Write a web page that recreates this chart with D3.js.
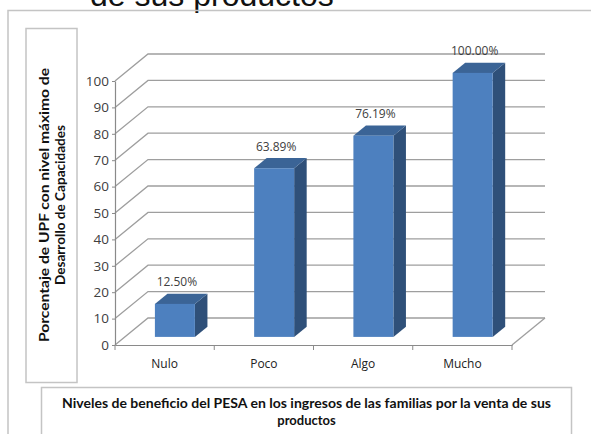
<!DOCTYPE html>
<html>
<head>
<meta charset="utf-8">
<script src="https://cdn.jsdelivr.net/npm/d3@7"></script>
<style>
  html, body { margin: 0; padding: 0; background: #fff; }
  svg { display: block; }
</style>
</head>
<body>
<svg id="chart" width="591" height="434"></svg>
<script>
// Chart data
const categories = ["Nulo", "Poco", "Algo", "Mucho"];
const values = [12.5, 63.89, 76.19, 100];
const valueLabels = ["12.50%", "63.89%", "76.19%", "100.00%"];
const yTickValues = [0, 10, 20, 30, 40, 50, 60, 70, 80, 90, 100];
const yTitleLines = ["Porcentaje  de UPF con nivel máximo de", "Desarrollo de Capacidades"];
const xTitleLines = ["Niveles  de beneficio del  PESA en los ingresos de las familias por la venta de sus", "productos"];
const headingTail = "de sus productos";

const svg = d3.select("#chart");
const FONT = "'Open Sans', Lato, sans-serif";
const BOLD_FONT = "Lato, 'Open Sans', sans-serif";

// Front plane of the 3D plot
const x = d3.scaleBand().domain(categories).range([115, 512]);
const y = d3.scaleLinear().domain([0, 100]).range([345, 81]);

// Depth direction of the 3D box (full depth)
const DX = 33, DY = -27;
const proj = (px, py, t) => [px + DX * t, py + DY * t];
const barFront = 0.3, barBack = 0.68;
const barInset = 30, barWidth = 40;

// Cut-off heading text at top
svg.append("text")
  .attr("x", 90).attr("y", 6)
  .attr("font-family", "'Liberation Sans', Arial, sans-serif")
  .attr("font-size", 32)
  .attr("fill", "#111")
  .text(headingTail);

// Outer frame
const frame = svg.append("g").attr("fill", "none").attr("stroke", "#c4c4c4").attr("stroke-width", 1.5);
frame.append("path").attr("d", "M8,440 V10.5 H600");
// Axis-title boxes
frame.append("rect").attr("x", 26).attr("y", 28.5).attr("width", 51).attr("height", 354);
frame.append("rect").attr("x", 41.5).attr("y", 387.5).attr("width", 530).attr("height", 60);

// Gridlines on the back wall, with the left-wall diagonals
const grid = svg.append("g").attr("stroke", "#9e9e9e").attr("stroke-width", 1.3).attr("fill", "none");
const x0 = x.range()[0], x1 = x.range()[1];
yTickValues.forEach(v => {
  const [bx, by] = proj(x0, y(v), 1);
  const [ex] = proj(x1, y(v), 1);
  grid.append("path").attr("d", `M${x0},${y(v)} L${bx},${by} H${ex}`);
});
// Floor right edge
{
  const [ex, ey] = proj(x1, y(0), 1);
  grid.append("path").attr("d", `M${x1},${y(0)} L${ex},${ey}`);
}

// Value axis
const yAxis = d3.axisLeft(y).tickValues(yTickValues).tickSize(3).tickPadding(3).tickSizeOuter(0);
const yg = svg.append("g").attr("transform", `translate(${x0},0)`).call(yAxis);
yg.select(".domain").attr("stroke", "#8a8a8a").attr("stroke-width", 1.2);
yg.selectAll(".tick line").attr("stroke", "#8a8a8a");
yg.selectAll(".tick text").attr("font-family", FONT).attr("font-size", 13.5).attr("fill", "#404040");

// Category axis
const xAxis = d3.axisBottom(x).tickSize(0).tickPadding(14).tickSizeOuter(0);
const xg = svg.append("g").attr("transform", `translate(0,${y(0)})`).call(xAxis);
xg.select(".domain").attr("stroke", "#8a8a8a").attr("stroke-width", 1.2);
xg.selectAll(".tick text").attr("font-family", FONT).attr("font-size", 12).attr("fill", "#222");
// Tick marks at category boundaries
const bounds = categories.map(c => x(c)).concat([x1]);
xg.selectAll("line.bound").data(bounds).join("line")
  .attr("class", "bound")
  .attr("x1", d => d).attr("x2", d => d)
  .attr("y1", 0).attr("y2", 5)
  .attr("stroke", "#8a8a8a");

// 3D bars
const bars = svg.append("g");
categories.forEach((c, i) => {
  const v = values[i];
  const left = x(c) + barInset;
  const right = left + barWidth;
  const [fl, fb] = proj(left, y(0), barFront);
  const [fr] = proj(right, y(0), barFront);
  const [, ft] = proj(left, y(v), barFront);
  const [bl, bt] = proj(left, y(v), barBack);
  const [br, bb] = proj(right, y(0), barBack);
  const [brt] = proj(right, y(v), barBack);
  // side face
  bars.append("path")
    .attr("d", `M${fr},${fb} L${br},${bb} L${brt},${bt} L${fr},${ft} Z`)
    .attr("fill", "#2f5079");
  // top face
  bars.append("path")
    .attr("d", `M${fl},${ft} L${bl},${bt} L${brt},${bt} L${fr},${ft} Z`)
    .attr("fill", "#3b6496");
  // front face
  bars.append("rect")
    .attr("x", fl).attr("y", ft)
    .attr("width", fr - fl).attr("height", fb - ft)
    .attr("fill", "#4d80bf");
  // value label
  bars.append("text")
    .attr("x", (fl + fr) / 2 + 2)
    .attr("y", ft - 17.5)
    .attr("text-anchor", "middle")
    .attr("font-family", FONT).attr("font-size", 12)
    .attr("fill", "#404040")
    .text(valueLabels[i]);
});

// Value-axis title (rotated, two lines)
const yTitleX = [44, 60.5];
const yTitleLen = [274, 160];
yTitleLines.forEach((line, i) => {
  svg.append("text")
    .attr("transform", `translate(${yTitleX[i]},205) rotate(-90)`)
    .attr("text-anchor", "middle")
    .attr("dy", "0.35em")
    .attr("font-family", BOLD_FONT).attr("font-weight", "bold").attr("font-size", 13)
    .attr("fill", "#111")
    .attr("textLength", yTitleLen[i]).attr("lengthAdjust", "spacingAndGlyphs")
    .text(line);
});

// Category-axis title (two lines)
const xTitleY = [408, 425];
xTitleLines.forEach((line, i) => {
  const t = svg.append("text")
    .attr("x", 306.5).attr("y", xTitleY[i])
    .attr("text-anchor", "middle")
    .attr("font-family", BOLD_FONT).attr("font-weight", "bold").attr("font-size", 13)
    .attr("fill", "#111")
    .text(line);
  if (i === 0) t.attr("textLength", 489).attr("lengthAdjust", "spacingAndGlyphs");
});
</script>
</body>
</html>
